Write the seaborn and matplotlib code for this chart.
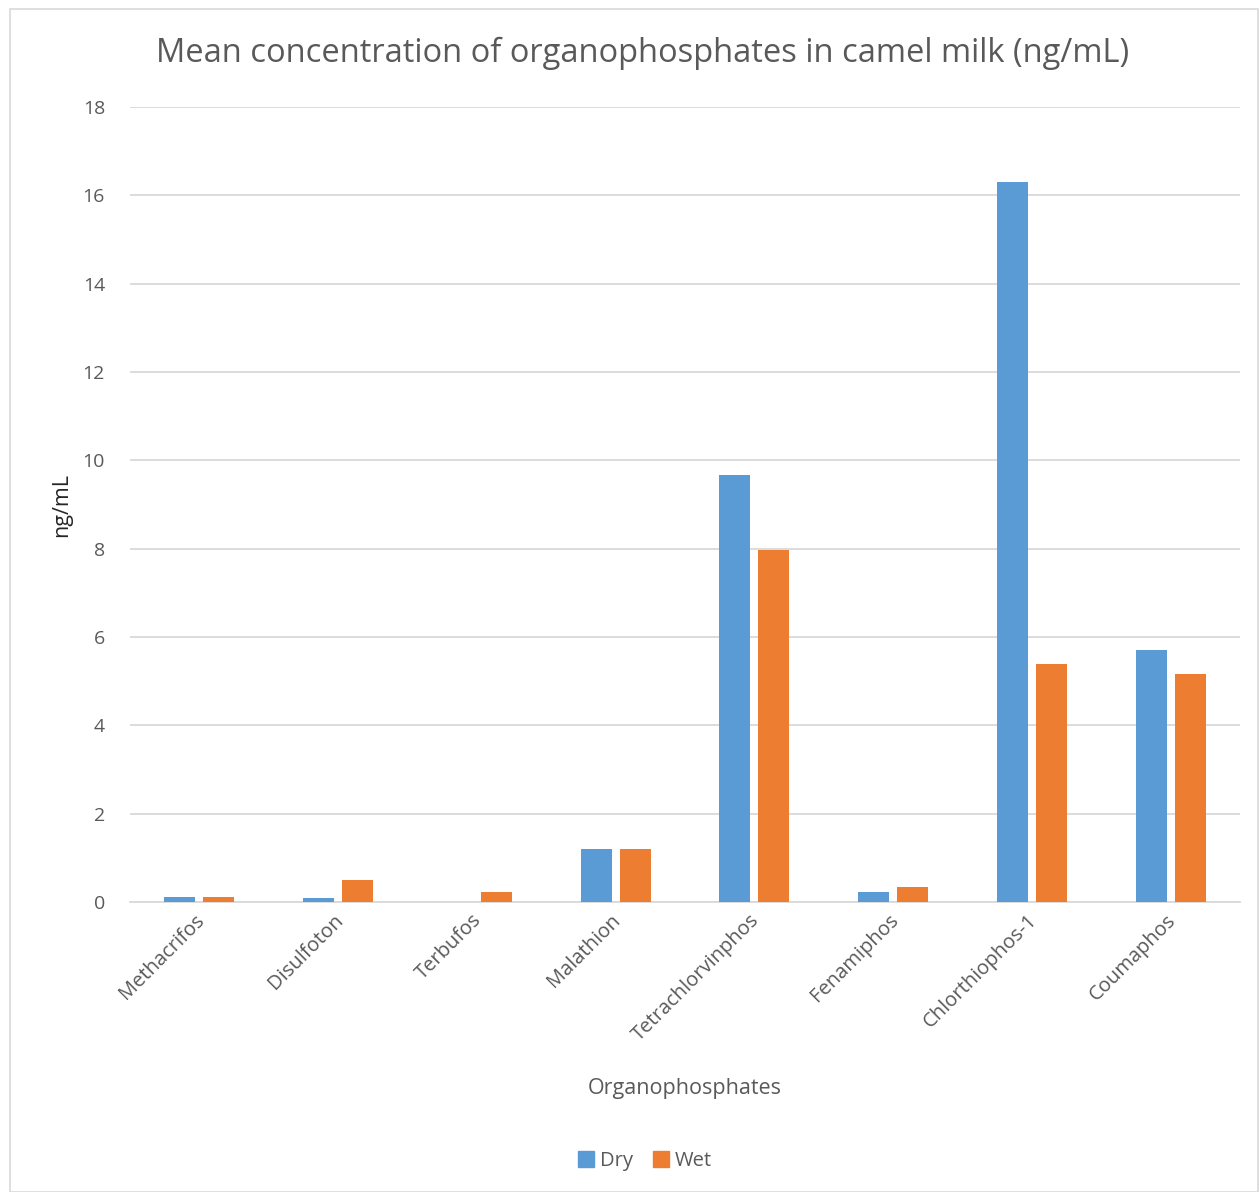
import matplotlib
matplotlib.use("Agg")
import matplotlib.pyplot as plt
import seaborn as sns
import pandas as pd
from matplotlib.patches import Rectangle
from matplotlib.transforms import ScaledTranslation

compounds = ["Methacrifos", "Disulfoton", "Terbufos", "Malathion",
             "Tetrachlorvinphos", "Fenamiphos", "Chlorthiophos-1", "Coumaphos"]
dry = [0.11, 0.10, 0.0, 1.20, 9.67, 0.22, 16.30, 5.70]
wet = [0.12, 0.50, 0.23, 1.20, 7.97, 0.33, 5.39, 5.16]
seasons = ["Dry", "Wet"]
colors = ["#5B9BD5", "#ED7D31"]

df = pd.DataFrame({
    "compound": compounds * 2,
    "season": ["Dry"] * len(compounds) + ["Wet"] * len(compounds),
    "value": dry + wet,
})

sns.set_theme(style="white")
plt.rcParams["font.family"] = ["Open Sans", "DejaVu Sans"]
text_color = "#595959"

W, H = 1259, 1192
fig = plt.figure(figsize=(W / 100, H / 100), dpi=100)
ax = fig.add_axes([130 / W, 1 - 902 / H, 1110 / W, 795 / H])

sns.barplot(data=df, x="compound", y="value", hue="season", order=compounds,
            hue_order=seasons, palette=colors, width=0.56, gap=0.2,
            saturation=1, ax=ax, legend=False, edgecolor="none", zorder=3)

ax.set_xlim(-0.5, len(compounds) - 0.5)
ax.set_ylim(0, 18)
ax.set_yticks(range(0, 19, 2))
ax.yaxis.grid(True, color="#d9d9d9", linewidth=1.3, zorder=0)
ax.set_axisbelow(True)
for s in ["top", "right", "left"]:
    ax.spines[s].set_visible(False)
ax.spines["bottom"].set_color("#d9d9d9")
ax.spines["bottom"].set_linewidth(1.3)
ax.tick_params(axis="both", length=0, colors=text_color, labelsize=14)
ax.tick_params(axis="y", pad=18)
ax.set_xticks(range(len(compounds)))
ax.set_xticklabels(compounds, rotation=45, ha="right", va="top",
                   rotation_mode="anchor", color=text_color, fontsize=14.5)
ax.tick_params(axis="x", pad=6)
shift = ScaledTranslation(-5 / 100, 0, fig.dpi_scale_trans)
for lbl in ax.get_xticklabels():
    lbl.set_transform(lbl.get_transform() + shift)

ax.set_xlabel("Organophosphates", fontsize=15.5, color=text_color)
ax.set_ylabel("ng/mL", fontsize=15.5, color="#262626")
ax.xaxis.set_label_coords(555 / 1110, -(1078 - 902) / 795)
ax.yaxis.set_label_coords(-(130 - 72) / 1110, (902 - 505) / 795)

fig.text(643 / W, 1 - 53 / H, "Mean concentration of organophosphates in camel milk (ng/mL)",
         ha="center", va="center", fontsize=23.5, color=text_color)

handles = [Rectangle((0, 0), 1, 1, color=c) for c in colors]
fig.legend(handles, seasons, loc="center", bbox_to_anchor=(645 / W, 1 - 1161 / H),
           ncol=2, frameon=False, fontsize=14.5, handlelength=0.8, handleheight=0.8,
           handletextpad=0.3, columnspacing=1.0, labelcolor=text_color)

fig.patches.append(Rectangle((10 / W, 0), (W - 10) / W - 1 / W, 1 - 9 / H,
                             transform=fig.transFigure, fill=False,
                             edgecolor="#d9d9d9", linewidth=1.2))

fig.savefig("out.png", dpi=100)
